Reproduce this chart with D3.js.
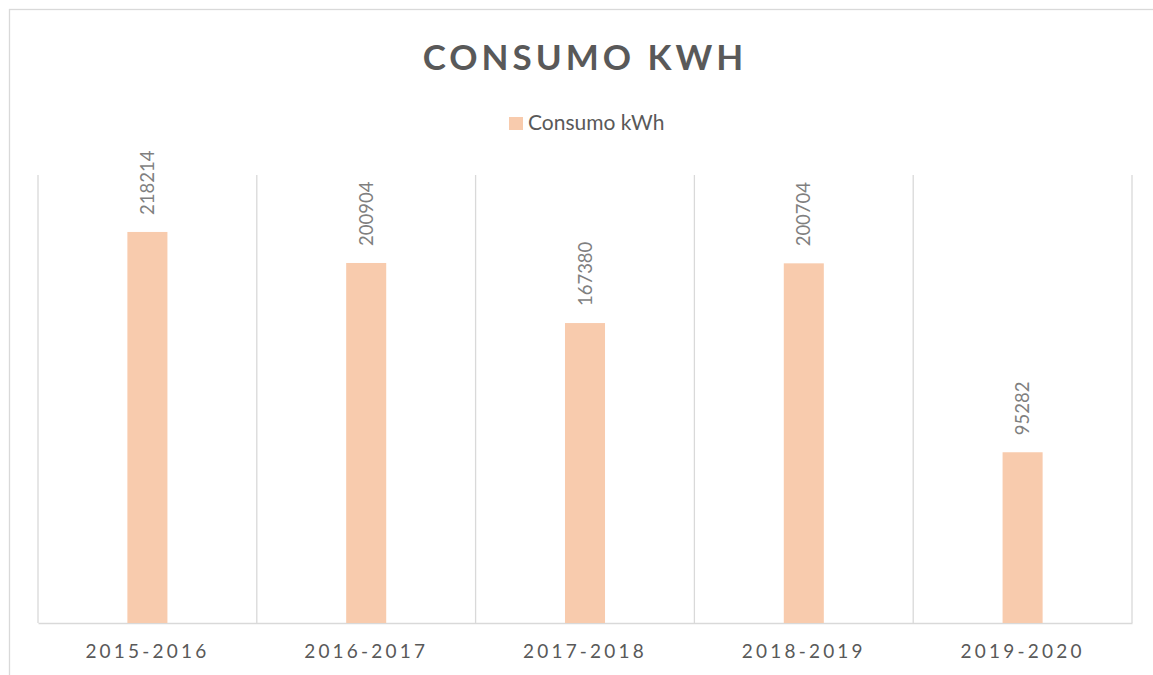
<!DOCTYPE html>
<html>
<head>
<meta charset="utf-8">
<script src="https://cdn.jsdelivr.net/npm/d3@7"></script>
<style>
  body { margin: 0; background: #fff; }
  svg { display: block; font-family: Lato, "Open Sans", sans-serif; }
</style>
</head>
<body>
<div id="chart"></div>
<script>
// data
const categories = ["2015-2016", "2016-2017", "2017-2018", "2018-2019", "2019-2020"];
const consumo = [218214, 200904, 167380, 200704, 95282];
const seriesName = "Consumo kWh";
const title = "CONSUMO KWH";

const W = 1153, H = 675;
const margin = { top: 175, right: 21, bottom: 52, left: 38 };
const width = W - margin.left - margin.right;
const height = H - margin.top - margin.bottom;

const svg = d3.select("#chart").append("svg")
  .attr("width", W)
  .attr("height", H);

// chart border (runs off the right and bottom edge)
svg.append("rect")
  .attr("x", 9.5).attr("y", 9.5)
  .attr("width", 1300).attr("height", 800)
  .attr("fill", "none")
  .attr("stroke", "#d9d9d9")
  .attr("stroke-width", 1.3);

// title
svg.append("text")
  .attr("x", margin.left + width / 2)
  .attr("y", 70)
  .attr("text-anchor", "middle")
  .attr("fill", "#595959")
  .attr("font-size", 35)
  .attr("font-weight", "bold")
  .attr("letter-spacing", 4)
  .text(title);

// legend
const legend = svg.append("g").attr("transform", "translate(509,117)");
legend.append("rect").attr("width", 14).attr("height", 13).attr("fill", "#f8cbad");
legend.append("text")
  .attr("x", 19).attr("y", 13)
  .attr("fill", "#595959")
  .attr("font-size", 21)
  .text(seriesName);

const g = svg.append("g").attr("transform", `translate(${margin.left},${margin.top})`);

const x = d3.scaleBand().domain(categories).range([0, width]).padding(0);
const y = d3.scaleLinear().domain([0, 250000]).range([height, 0]);

// vertical gridlines at category boundaries
const bounds = categories.map(c => x(c)).concat([width]);
g.selectAll(".grid")
  .data(bounds)
  .enter().append("line")
  .attr("class", "grid")
  .attr("x1", d => d).attr("x2", d => d)
  .attr("y1", 0).attr("y2", height)
  .attr("stroke", "#d9d9d9")
  .attr("stroke-width", 1.3);

// x axis
const xAxis = g.append("g")
  .attr("transform", `translate(0,${height})`)
  .call(d3.axisBottom(x).tickSize(0).tickPadding(22));
xAxis.select(".domain").attr("stroke", "#d9d9d9").attr("stroke-width", 1.5);
xAxis.selectAll("text")
  .attr("fill", "#595959")
  .attr("font-size", 19)
  .attr("font-family", "Lato, 'Open Sans', sans-serif")
  .attr("letter-spacing", 3.2);

// bars
const barW = x.bandwidth() * 0.183;
g.selectAll(".bar")
  .data(consumo)
  .enter().append("rect")
  .attr("class", "bar")
  .attr("x", (d, i) => x(categories[i]) + x.bandwidth() / 2 - barW / 2)
  .attr("width", barW)
  .attr("y", d => y(d))
  .attr("height", d => height - y(d))
  .attr("fill", "#f8cbad");

// value labels, rotated
const lblSize = 18.5;
g.selectAll(".lbl")
  .data(consumo)
  .enter().append("text")
  .attr("class", "lbl")
  .attr("transform", (d, i) => {
    const cx = x(categories[i]) + x.bandwidth() / 2 + lblSize * 0.36;
    return `translate(${cx},${y(d) - 17}) rotate(-90)`;
  })
  .attr("fill", "#7f7f7f")
  .attr("font-size", lblSize)
  .text(d => d);
</script>
</body>
</html>
